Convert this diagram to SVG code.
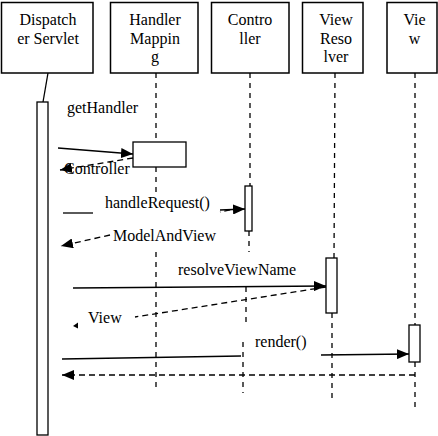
<svg xmlns="http://www.w3.org/2000/svg" width="438" height="436" viewBox="0 0 438 436">
<style>
.box{fill:#fff;stroke:#000;stroke-width:1.5}
.t{font-family:"Liberation Serif","Times New Roman",serif;font-size:16px;fill:#000}
.c{text-anchor:middle}
.life{stroke:#000;stroke-width:1.3;stroke-dasharray:5,5;fill:none}
.msg{stroke:#000;stroke-width:1.3;fill:none}
.ret{stroke:#000;stroke-width:1.3;stroke-dasharray:6,4;fill:none}
.act{fill:#fff;stroke:#000;stroke-width:1.3}
</style>
<defs>
<marker id="ah" markerUnits="userSpaceOnUse" markerWidth="12" markerHeight="10" refX="12" refY="5" orient="auto">
<path d="M0,0 L12,5 L0,10 z" fill="#000"/>
</marker>
</defs>
<g id="node-dispatcher">
<rect class="box" x="1.5" y="2.5" width="91.5" height="70.5"/>
<text class="t c" x="48" y="25">Dispatch</text>
<text class="t c" x="48" y="43.5">er Servlet</text>
</g>
<g id="node-handlermapping">
<rect class="box" x="110.5" y="2.5" width="87.5" height="70.5"/>
<text class="t c" x="155" y="25">Handler</text>
<text class="t c" x="155" y="43.5">Mappin</text>
<text class="t c" x="155" y="62">g</text>
</g>
<g id="node-controller">
<rect class="box" x="211.5" y="2.5" width="77.5" height="70.5"/>
<text class="t c" x="250" y="25">Contro</text>
<text class="t c" x="250" y="43.5">ller</text>
</g>
<g id="node-viewresolver">
<rect class="box" x="302.5" y="2.5" width="60.5" height="70.5"/>
<text class="t c" x="336" y="25">View</text>
<text class="t c" x="336" y="43.5">Reso</text>
<text class="t c" x="336" y="62">lver</text>
</g>
<g id="node-view">
<rect class="box" x="387" y="2.5" width="50" height="70.5"/>
<text class="t c" x="414.5" y="25">Vie</text>
<text class="t c" x="414.5" y="43.5">w</text>
</g>
<g id="lifelines">
<line class="msg" x1="48" y1="73" x2="43" y2="102"/>
<rect class="act" x="37" y="102" width="11" height="333"/>
<line class="life" x1="156" y1="73" x2="156" y2="142"/>
<line class="life" x1="156" y1="167" x2="156" y2="192"/>
<line class="life" x1="156" y1="252" x2="156" y2="392"/>
<rect class="act" x="133" y="142" width="53" height="25"/>
<line class="life" x1="250" y1="73" x2="250" y2="186"/>
<line class="life" x1="249" y1="231" x2="249" y2="252"/>
<line class="life" x1="246" y1="287" x2="246" y2="325"/>
<line class="life" x1="243" y1="342" x2="243" y2="393"/>
<rect class="act" x="245" y="186" width="7" height="45"/>
<line class="life" x1="335" y1="73" x2="334" y2="258"/>
<line class="life" x1="332" y1="313" x2="332" y2="403"/>
<rect class="act" x="326" y="258" width="11" height="55"/>
<line class="life" x1="415" y1="73" x2="415" y2="325"/>
<line class="life" x1="415" y1="362" x2="415" y2="407"/>
<rect class="act" x="409" y="325" width="11" height="37"/>
</g>
<g id="connectors">
<line class="msg" x1="58" y1="148" x2="133" y2="154" marker-end="url(#ah)"/>
<line class="msg" x1="63" y1="213" x2="93" y2="213"/>
<line class="msg" x1="220" y1="210" x2="245" y2="209" marker-end="url(#ah)"/>
<line class="ret" x1="240" y1="208" x2="220" y2="212"/>
<line class="ret" x1="110" y1="235" x2="61" y2="246" marker-end="url(#ah)"/>
<line class="msg" x1="73" y1="288" x2="326" y2="286" marker-end="url(#ah)"/>
<line class="ret" x1="326" y1="287" x2="135" y2="317"/>
<polygon points="73,326 78,322.5 78,328.5" fill="#000"/>
<line class="msg" x1="62" y1="359" x2="241" y2="356"/>
<line class="msg" x1="321" y1="355" x2="409" y2="354" marker-end="url(#ah)"/>
<line class="ret" x1="415" y1="375" x2="62" y2="375" marker-end="url(#ah)"/>
</g>
<g id="labels">
<text class="t" x="67" y="113">getHandler</text>
<text class="t" x="64" y="174">Controller</text>
<text class="t" x="105" y="208">handleRequest()</text>
<text class="t" x="113" y="241">ModelAndView</text>
<text class="t" x="178" y="275">resolveViewName</text>
<text class="t" x="88" y="323">View</text>
<text class="t" x="255" y="347">render()</text>
</g>
<g id="connector-controller">
<line class="ret" x1="133" y1="158" x2="60" y2="170" marker-end="url(#ah)"/>
</g>
</svg>
